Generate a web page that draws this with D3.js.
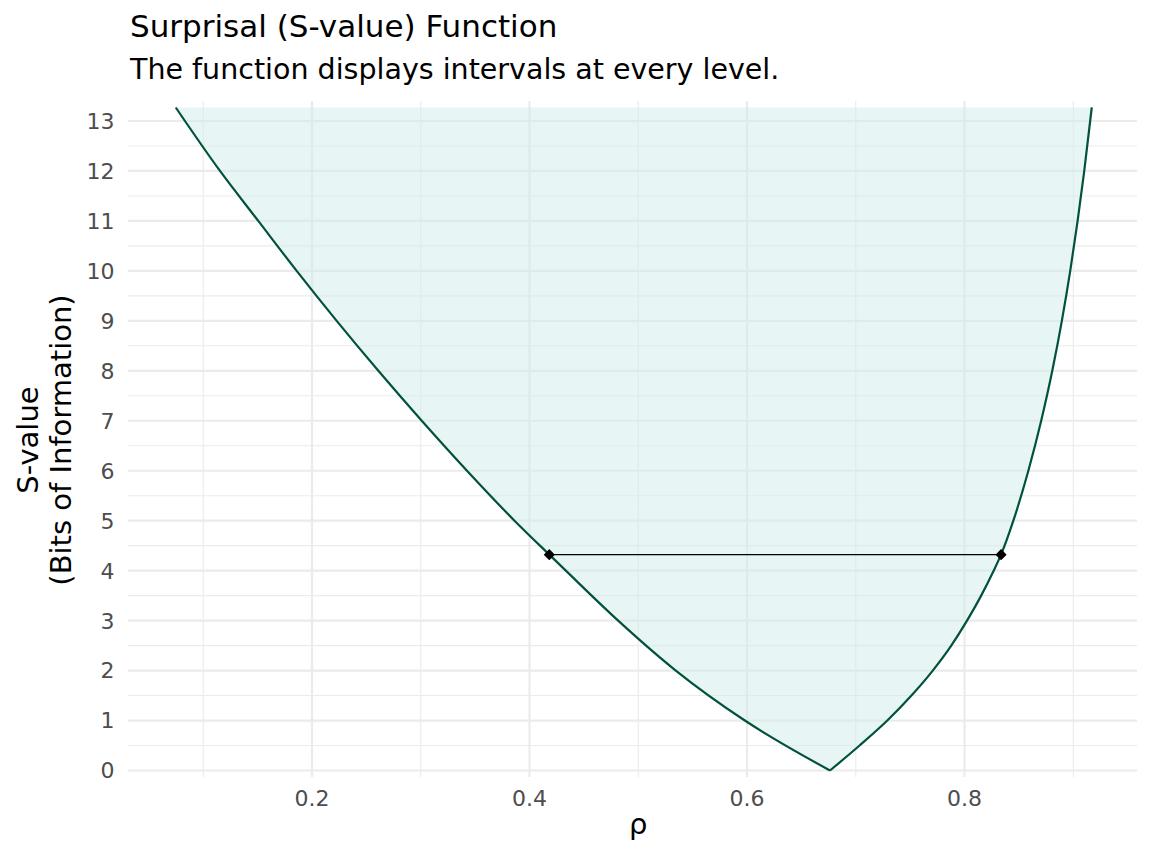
<!DOCTYPE html>
<html>
<head>
<meta charset="utf-8">
<script src="https://cdn.jsdelivr.net/npm/d3@7"></script>
<style>
  body { margin: 0; background: #fff; }
  svg { font-family: "DejaVu Sans", sans-serif; }
</style>
</head>
<body>
<svg width="1152" height="864"></svg>
<script>
const svg = d3.select("svg");

// Left branch of the curve (rho, S-value)
const leftRho = [0.0747, 0.1154, 0.1506, 0.1859, 0.2227, 0.261, 0.3009, 0.3425, 0.3862, 0.4182, 0.4334, 0.4815, 0.5345, 0.598, 0.6763];
const leftS   = [13.27, 12, 11, 10, 9, 8, 7, 6, 5, 4.32, 4, 3, 2, 1, 0];

// Right branch
const rightRho = [0.6763, 0.7035, 0.729, 0.7512, 0.7708, 0.7878, 0.8023, 0.8153, 0.8268, 0.8336, 0.8449, 0.8587, 0.8705, 0.8807, 0.8895, 0.8972, 0.904, 0.9101, 0.917];
const rightS   = [0, 0.5, 1, 1.5, 2, 2.5, 3, 3.5, 4, 4.32, 5, 6, 7, 8, 9, 10, 11, 12, 13.27];

// 95% interval segment
const intervalRho = [0.4182, 0.8336];
const intervalS = 4.32;

const xTicks = [0.2, 0.4, 0.6, 0.8];
const xMinor = [0.1, 0.3, 0.5, 0.7, 0.9];
const yTicks = d3.range(0, 14);
const yMinor = d3.range(0, 13).map(d => d + 0.5);

const pLeft = 128, pRight = 1137, pTop = 101, pBottom = 777;

const x = d3.scaleLinear().domain([0.0308, 0.9586]).range([pLeft, pRight]);
const y = d3.scaleLinear().domain([-0.13, 13.4]).range([pBottom, pTop]);

// gridlines
const grid = svg.append("g");
grid.selectAll(".ymin")
  .data(yMinor)
  .enter().append("line")
  .attr("x1", pLeft).attr("x2", pRight)
  .attr("y1", d => y(d)).attr("y2", d => y(d))
  .attr("stroke", "#ebebeb").attr("stroke-width", 1.1);
grid.selectAll(".xmin")
  .data(xMinor)
  .enter().append("line")
  .attr("x1", d => x(d)).attr("x2", d => x(d))
  .attr("y1", pTop).attr("y2", pBottom)
  .attr("stroke", "#ebebeb").attr("stroke-width", 1.1);
grid.selectAll(".ymaj")
  .data(yTicks)
  .enter().append("line")
  .attr("x1", pLeft).attr("x2", pRight)
  .attr("y1", d => y(d)).attr("y2", d => y(d))
  .attr("stroke", "#ebebeb").attr("stroke-width", 2.2);
grid.selectAll(".xmaj")
  .data(xTicks)
  .enter().append("line")
  .attr("x1", d => x(d)).attr("x2", d => x(d))
  .attr("y1", pTop).attr("y2", pBottom)
  .attr("stroke", "#ebebeb").attr("stroke-width", 2.2);

const leftPts = leftRho.map((r, i) => [x(r), y(leftS[i])]);
const rightPts = rightRho.map((r, i) => [x(r), y(rightS[i])]);

const line = d3.line().curve(d3.curveMonotoneX);
const pathL = line(leftPts);
const pathR = line(rightPts);

// shaded region above the curve
svg.append("path")
  .attr("d", pathL + pathR.replace(/^M[^CL]*/, "") + "Z")
  .attr("fill", "#d2ebeb")
  .attr("fill-opacity", 0.5);

svg.append("path").attr("d", pathL)
  .attr("fill", "none").attr("stroke", "#00523c").attr("stroke-width", 2.2);
svg.append("path").attr("d", pathR)
  .attr("fill", "none").attr("stroke", "#00523c").attr("stroke-width", 2.2);

// interval
svg.append("line")
  .attr("x1", x(intervalRho[0])).attr("x2", x(intervalRho[1]))
  .attr("y1", y(intervalS)).attr("y2", y(intervalS))
  .attr("stroke", "#000").attr("stroke-width", 1.1);
svg.selectAll(".pt")
  .data(intervalRho)
  .enter().append("path")
  .attr("d", d3.symbol(d3.symbolDiamond2, 80)())
  .attr("transform", d => `translate(${x(d)},${y(intervalS)})`)
  .attr("fill", "#000");

// axis tick labels
svg.selectAll(".xt")
  .data(xTicks)
  .enter().append("text")
  .attr("x", d => x(d)).attr("y", 806)
  .attr("text-anchor", "middle")
  .attr("font-size", 22).attr("fill", "#4d4d4d")
  .text(d => d3.format(".1f")(d));
svg.selectAll(".yt")
  .data(yTicks)
  .enter().append("text")
  .attr("x", 114.5).attr("y", d => y(d))
  .attr("dy", "0.36em")
  .attr("text-anchor", "end")
  .attr("font-size", 22).attr("fill", "#4d4d4d")
  .text(d => d);

// axis titles
svg.append("text")
  .attr("x", x(0.5)).attr("y", 834)
  .attr("text-anchor", "middle")
  .attr("font-size", 29).attr("fill", "#000")
  .text("ρ");
const yt = svg.append("text")
  .attr("transform", "translate(38,440) rotate(-90)")
  .attr("text-anchor", "middle")
  .attr("font-size", 29).attr("fill", "#000");
yt.append("tspan").attr("x", 0).attr("dy", 0).text("S-value");
yt.append("tspan").attr("x", 0).attr("dy", 33).text("(Bits of Information)");

// title and subtitle
svg.append("text")
  .attr("x", 130).attr("y", 37)
  .attr("font-size", 31).attr("fill", "#000")
  .text("Surprisal (S-value) Function");
svg.append("text")
  .attr("x", 130).attr("y", 79)
  .attr("font-size", 28.5).attr("fill", "#000")
  .text("The function displays intervals at every level.");
</script>
</body>
</html>
